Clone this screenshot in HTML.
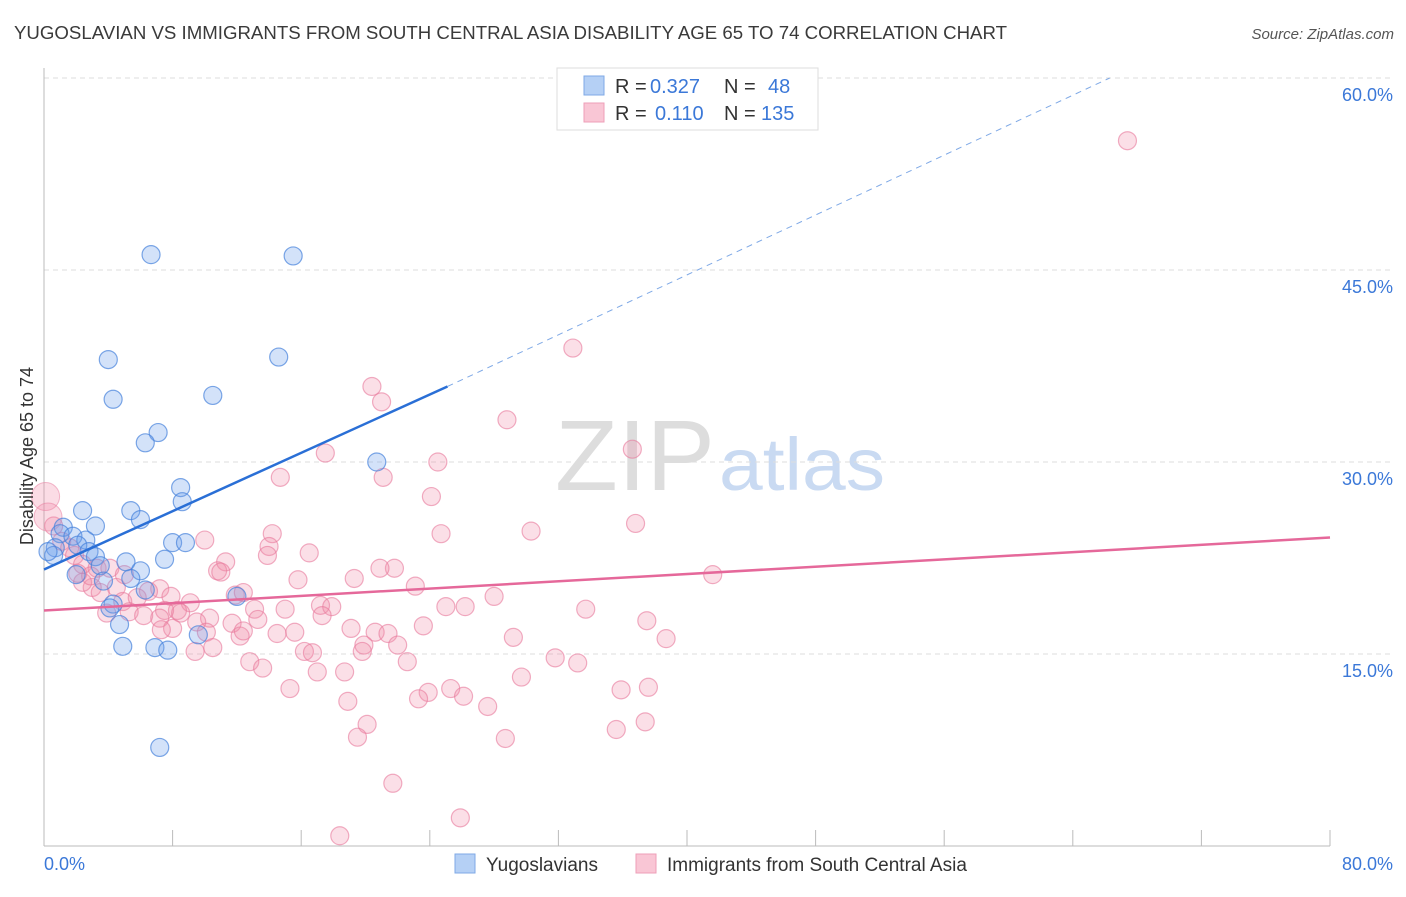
<!DOCTYPE html>
<html><head><meta charset="utf-8"><style>
body{margin:0;background:#fff;font-family:"Liberation Sans",sans-serif;}
svg text{font-family:"Liberation Sans",sans-serif;}
</style></head><body>
<svg id="chart" width="1406" height="892" xmlns="http://www.w3.org/2000/svg">
<text x="14" y="39" font-size="18" fill="#3a3a3a" textLength="993" lengthAdjust="spacingAndGlyphs">YUGOSLAVIAN VS IMMIGRANTS FROM SOUTH CENTRAL ASIA DISABILITY AGE 65 TO 74 CORRELATION CHART</text>
<text x="1394" y="39" font-size="15" fill="#555" text-anchor="end" font-style="italic">Source: ZipAtlas.com</text>
<g>
<text x="635" y="490" font-size="100" fill="#ddd" text-anchor="middle" font-family="Liberation Serif, serif" textLength="160" lengthAdjust="spacingAndGlyphs">ZIP</text>
<text x="802" y="490" font-size="74" fill="#c9daf2" text-anchor="middle" textLength="166" lengthAdjust="spacingAndGlyphs">atlas</text>
</g>
<g id="grid"></g>
<g id="axes"></g>
<g id="marks"></g>
<text transform="translate(33,456) rotate(-90)" font-size="18" fill="#333" text-anchor="middle">Disability Age 65 to 74</text>
<g>
<rect x="557" y="68" width="261" height="62" fill="#fff" stroke="#ddd"/>
<rect x="584" y="76" width="20" height="19" fill="#b5d0f5" stroke="#7fa9e6"/>
<rect x="584" y="103" width="20" height="19" fill="#f9c6d5" stroke="#ee9fb8"/>
<text x="615" y="93" font-size="20" fill="#333">R =</text>
<text x="650" y="93" font-size="20" fill="#3b78d8">0.327</text>
<text x="724" y="93" font-size="20" fill="#333">N =</text>
<text x="768" y="93" font-size="20" fill="#3b78d8">48</text>
<text x="615" y="120" font-size="20" fill="#333">R =</text>
<text x="655" y="120" font-size="20" fill="#3b78d8">0.110</text>
<text x="724" y="120" font-size="20" fill="#333">N =</text>
<text x="761" y="120" font-size="20" fill="#3b78d8">135</text>
</g>
<g>
<rect x="455" y="854" width="20" height="19" fill="#b5d0f5" stroke="#7fa9e6"/>
<text x="486" y="871" font-size="19" fill="#333">Yugoslavians</text>
<rect x="636" y="854" width="20" height="19" fill="#f9c6d5" stroke="#ee9fb8"/>
<text x="667" y="871" font-size="19" fill="#333">Immigrants from South Central Asia</text>
</g>
</svg>
<script>
const xTicks=[0,8,16,24,32,40,48,56,64,72,80];
const yTicks=[15,30,45,60];
const blueX=[6.66,15.5,4.0,14.6,4.3,10.5,7.1,6.3,20.7,8.5,8.6,2.4,5.4,6.0,3.2,1.2,1.0,1.8,2.6,2.1,0.7,8.0,8.8,2.8,0.6,3.2,7.5,5.1,3.5,6.0,2.0,5.4,3.7,6.3,12.0,4.3,4.1,4.7,9.6,4.9,6.9,7.7,7.2,0.25];
const blueY=[46.2,46.1,38.0,38.2,34.9,35.2,32.3,31.5,30.0,28.0,26.9,26.2,26.2,25.5,25.0,24.9,24.4,24.2,23.9,23.5,23.3,23.7,23.7,23.0,22.7,22.6,22.4,22.2,21.9,21.5,21.2,20.9,20.7,20.0,19.5,18.9,18.6,17.3,16.5,15.6,15.5,15.3,7.7,23.0];
const pinkX=[67.4,32.9,28.8,20.4,21.0,36.6,17.5,24.5,21.1,14.7,24.1,36.8,30.3,24.7,14.2,10.0,14.0,16.5,13.9,11.3,21.8,20.9,41.6,10.8,11.0,15.8,19.3,23.1,28.0,11.9,7.2,6.5,4.5,3.0,2.4,3.5,12.4,7.9,4.9,5.8,9.1,33.7,25.0,26.2,17.2,17.9,15.0,13.1,8.3,7.5,8.5,5.3,3.9,6.2,10.3,11.7,9.5,13.3,17.3,7.2,23.6,37.5,19.1,20.6,21.4,15.6,29.2,38.7,8.0,10.1,12.2,12.4,14.5,7.3,22.0,19.9,19.8,16.2,16.7,10.5,9.4,31.8,33.2,22.6,12.8,13.6,17.0,18.7,29.7,15.3,25.3,37.6,35.9,23.9,26.1,23.3,18.9,27.6,20.1,37.4,35.6,19.5,28.7,21.7,25.9,18.4,0.6,1.1,1.6,1.9,2.4,3.3,4.1,5.0,2.9,2.1];
const pinkY=[55.1,38.9,33.3,35.9,34.7,31.0,30.7,30.0,28.8,28.8,27.3,25.2,24.6,24.4,24.4,23.9,23.4,22.9,22.7,22.2,21.7,21.7,21.2,21.5,21.4,20.8,20.9,20.3,19.5,19.6,20.1,19.9,20.2,20.2,20.6,19.8,19.8,19.5,19.1,19.4,19.0,18.5,18.7,18.7,18.8,18.7,18.5,18.5,18.4,18.4,18.2,18.3,18.2,18.0,17.8,17.4,17.5,17.7,18.0,17.8,17.2,17.6,17.0,16.7,16.6,16.7,16.3,16.2,17.0,16.7,16.4,16.8,16.6,16.9,15.7,15.7,15.2,15.2,15.1,15.5,15.2,14.7,14.3,14.4,14.4,13.9,13.6,13.6,13.2,12.3,12.3,12.4,12.2,12.0,11.7,11.5,11.3,10.9,9.5,9.7,9.1,8.5,8.4,4.9,2.2,0.8,25.0,23.8,23.3,22.7,22.0,21.7,21.7,21.2,21.1,21.3];
const bigPinkX=[0.1,0.25];
const bigPinkY=[27.3,25.7];
const blueTrend=[0,21.6,25.1,35.9];
const blueDash=[25.1,35.9,66.3,60];
const pinkTrend=[0,18.4,80,24.1];
const X=v=>44+v*(1286/80);
const Y=v=>846-v*12.8;
const NS='http://www.w3.org/2000/svg';
function mk(tag,attrs,parent){const e=document.createElementNS(NS,tag);for(const k in attrs)e.setAttribute(k,attrs[k]);document.getElementById(parent).appendChild(e);return e;}
yTicks.forEach(t=>{
 const l=mk('line',{x1:44,x2:1393,y1:Y(t),y2:Y(t),stroke:'#ddd','stroke-dasharray':'5,4'},'grid');
 
 
 const tx=mk('text',{x:1393,y:Y(t)+23,'font-size':18,fill:'#3b78d8','text-anchor':'end'},'grid');
 tx.textContent=t.toFixed(1)+'%';
 
 
});
const ax=mk('line',{x1:44,x2:44,y1:68,y2:846,stroke:'#bbb'},'axes');


const bx=mk('line',{x1:44,x2:1330,y1:846,y2:846,stroke:'#bbb'},'axes');


xTicks.forEach(t=>{
 const l=mk('line',{x1:X(t),x2:X(t),y1:830,y2:846,stroke:'#bbb'},'axes');
 
 
});
[[0,'start'],[80,'end']].forEach(([t,a])=>{
 const tx=mk('text',{x:t===0?44:1393,y:870,'font-size':18,fill:'#3b78d8','text-anchor':a},'axes');
 tx.textContent=t.toFixed(1)+'%';
 
 
});
pinkX.forEach((v,i)=>{
 const c=mk('circle',{cx:X(v),cy:Y(pinkY[i]),r:9,fill:'rgba(242,140,170,0.28)',stroke:'rgba(232,120,155,0.6)','stroke-width':1.2},'marks');
 
 
});
bigPinkX.forEach((v,i)=>{
 const c=mk('circle',{cx:X(v),cy:Y(bigPinkY[i]),r:14,fill:'rgba(242,140,170,0.3)',stroke:'rgba(232,120,155,0.5)'},'marks');
 
 
});
blueX.forEach((v,i)=>{
 const c=mk('circle',{cx:X(v),cy:Y(blueY[i]),r:9,fill:'rgba(110,160,235,0.3)',stroke:'rgba(70,130,220,0.7)','stroke-width':1.2},'marks');
 
 
});
const t1=mk('line',{x1:X(blueTrend[0]),y1:Y(blueTrend[1]),x2:X(blueTrend[2]),y2:Y(blueTrend[3]),stroke:'#2a6fd6','stroke-width':2.5},'marks');


const t2=mk('line',{x1:X(blueDash[0]),y1:Y(blueDash[1]),x2:X(blueDash[2]),y2:Y(blueDash[3]),stroke:'#7fa9e6','stroke-width':1,'stroke-dasharray':'6,5'},'marks');


const t3=mk('line',{x1:X(pinkTrend[0]),y1:Y(pinkTrend[1]),x2:X(pinkTrend[2]),y2:Y(pinkTrend[3]),stroke:'#e5689a','stroke-width':2.5},'marks');


</script>
</body></html>
